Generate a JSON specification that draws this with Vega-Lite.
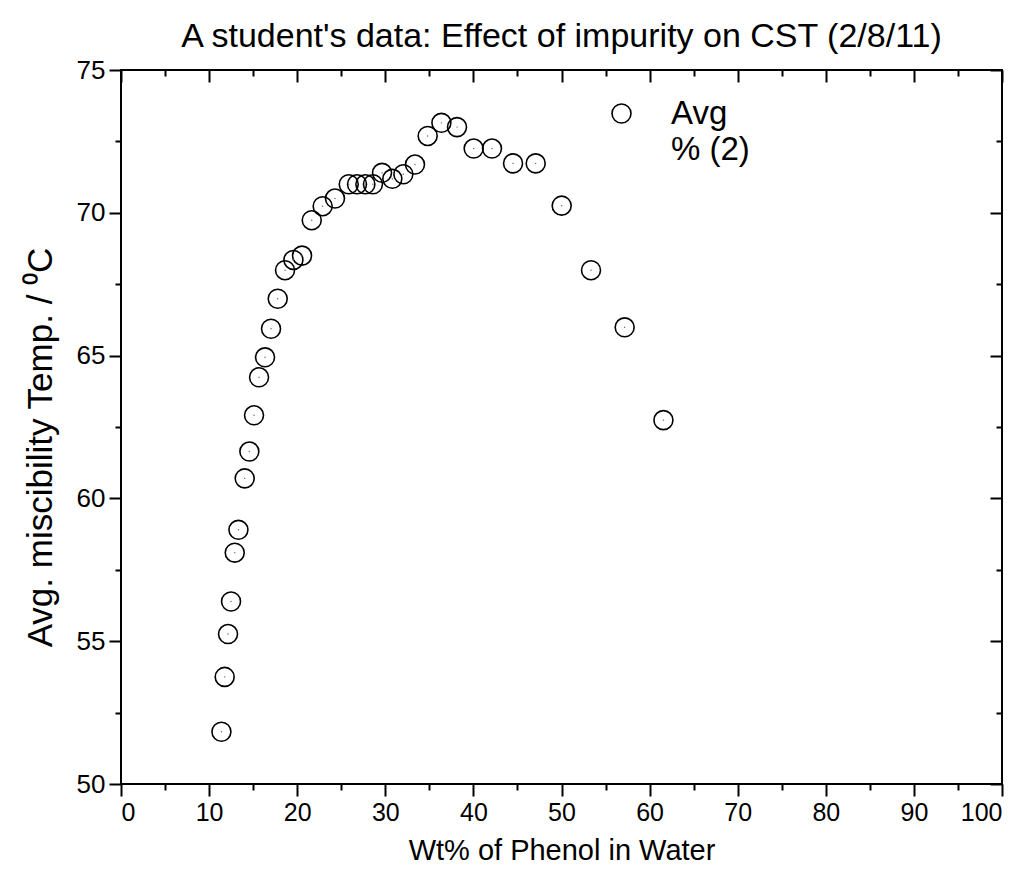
{
  "$schema": "https://vega.github.io/schema/vega-lite/v6.json",
  "autosize": "none",
  "padding": {"left": 121, "top": 70, "right": 27, "bottom": 104},
  "width": 881,
  "height": 714,
  "background": "white",
  "config": {
    "view": {"stroke": "black", "strokeWidth": 2},
    "font": "Liberation Sans",
    "axis": {"grid": false, "domain": false, "tickColor": "black", "tickWidth": 2, "labelColor": "black", "titleColor": "black", "labelFont": "Liberation Sans", "titleFont": "Liberation Sans", "titleFontWeight": "normal"}
  },
  "title": {"text": "A student's data: Effect of impurity on CST (2/8/11)", "fontSize": 34, "fontWeight": "normal", "font": "Liberation Sans", "color": "black", "offset": 3},
  "data": {"values": [
    {"wt": 11.40, "temp": 51.83, "series": "Avg"},
    {"wt": 11.77, "temp": 53.75, "series": "Avg"},
    {"wt": 12.15, "temp": 55.25, "series": "Avg"},
    {"wt": 12.49, "temp": 56.39, "series": "Avg"},
    {"wt": 12.91, "temp": 58.10, "series": "Avg"},
    {"wt": 13.33, "temp": 58.90, "series": "Avg"},
    {"wt": 14.04, "temp": 60.70, "series": "Avg"},
    {"wt": 14.57, "temp": 61.64, "series": "Avg"},
    {"wt": 15.10, "temp": 62.91, "series": "Avg"},
    {"wt": 15.67, "temp": 64.24, "series": "Avg"},
    {"wt": 16.35, "temp": 64.94, "series": "Avg"},
    {"wt": 17.03, "temp": 65.94, "series": "Avg"},
    {"wt": 17.79, "temp": 66.99, "series": "Avg"},
    {"wt": 18.62, "temp": 67.99, "series": "Avg"},
    {"wt": 19.57, "temp": 68.35, "series": "Avg"},
    {"wt": 20.55, "temp": 68.50, "series": "Avg"},
    {"wt": 21.65, "temp": 69.74, "series": "Avg"},
    {"wt": 22.89, "temp": 70.23, "series": "Avg"},
    {"wt": 24.29, "temp": 70.50, "series": "Avg"},
    {"wt": 25.85, "temp": 71.00, "series": "Avg"},
    {"wt": 26.79, "temp": 71.00, "series": "Avg"},
    {"wt": 27.74, "temp": 71.00, "series": "Avg"},
    {"wt": 28.60, "temp": 71.00, "series": "Avg"},
    {"wt": 29.63, "temp": 71.40, "series": "Avg"},
    {"wt": 30.80, "temp": 71.19, "series": "Avg"},
    {"wt": 32.05, "temp": 71.35, "series": "Avg"},
    {"wt": 33.37, "temp": 71.69, "series": "Avg"},
    {"wt": 34.81, "temp": 72.69, "series": "Avg"},
    {"wt": 36.37, "temp": 73.15, "series": "Avg"},
    {"wt": 38.14, "temp": 73.00, "series": "Avg"},
    {"wt": 40.03, "temp": 72.25, "series": "Avg"},
    {"wt": 42.11, "temp": 72.25, "series": "Avg"},
    {"wt": 44.50, "temp": 71.73, "series": "Avg"},
    {"wt": 47.07, "temp": 71.73, "series": "Avg"},
    {"wt": 50.02, "temp": 70.25, "series": "Avg"},
    {"wt": 53.35, "temp": 67.99, "series": "Avg"},
    {"wt": 57.17, "temp": 65.99, "series": "Avg"},
    {"wt": 61.57, "temp": 62.74, "series": "Avg"}
  ]},
  "resolve": {"axis": {"x": "independent", "y": "independent"}},
  "layer": [
    {
      "mark": {"type": "point", "shape": "circle", "filled": false, "size": 360, "strokeWidth": 1.6, "opacity": 1},
      "encoding": {
        "x": {"field": "wt", "type": "quantitative", "scale": {"domain": [0, 100], "nice": false},
          "axis": {"orient": "bottom", "values": [0,5,10,15,20,25,30,35,40,45,50,55,60,65,70,75,80,85,90,95,100],
            "labelExpr": "datum.value % 10 === 0 ? datum.label : ''",
            "tickSize": {"condition": {"test": "datum.value % 10 === 0", "value": 12}, "value": 6},
            "labelFontSize": 25, "labelPadding": 4, "title": "Wt% of Phenol in Water", "titleFontSize": 29, "titlePadding": 11}},
        "y": {"field": "temp", "type": "quantitative", "scale": {"domain": [50, 75], "nice": false, "zero": false},
          "axis": {"orient": "left", "values": [50,52.5,55,57.5,60,62.5,65,67.5,70,72.5,75],
            "labelExpr": "datum.value % 5 === 0 ? datum.label : ''",
            "tickSize": {"condition": {"test": "datum.value % 5 === 0", "value": 12}, "value": 6},
            "labelFontSize": 26, "labelPadding": 4, "title": "Avg. miscibility Temp. / \u2070C", "titleFontSize": 35, "titlePadding": 18, "titleY": 377}},
        "color": {"field": "series", "type": "nominal", "scale": {"domain": ["Avg", "% (2)"], "range": ["black", "white"]},
          "legend": {"orient": "none", "legendX": 484, "legendY": 27, "title": null, "padding": 0, "rowPadding": 2,
            "symbolType": "circle", "symbolSize": 360, "symbolStrokeWidth": 1.6, "symbolFillColor": "transparent",
            "labelFontSize": 33, "labelFont": "Liberation Sans", "labelColor": "black", "labelOffset": 33,
            "labelBaseline": "middle", "labelLimit": 0}}
      }
    },
    {
      "mark": {"type": "point", "shape": "circle", "filled": true, "size": 2, "color": "#666666", "opacity": 1},
      "encoding": {
        "x": {"field": "wt", "type": "quantitative", "axis": null},
        "y": {"field": "temp", "type": "quantitative", "axis": null}
      }
    },
    {
      "mark": {"type": "point", "opacity": 0},
      "encoding": {
        "x": {"field": "wt", "type": "quantitative",
          "axis": {"orient": "top", "values": [0,5,10,15,20,25,30,35,40,45,50,55,60,65,70,75,80,85,90,95,100], "labels": false, "title": null,
            "tickSize": {"condition": {"test": "datum.value % 10 === 0", "value": -12}, "value": -6}}},
        "y": {"field": "temp", "type": "quantitative",
          "axis": {"orient": "right", "values": [50,52.5,55,57.5,60,62.5,65,67.5,70,72.5,75], "labels": false, "title": null,
            "tickSize": {"condition": {"test": "datum.value % 5 === 0", "value": -12}, "value": -6}}}
      }
    }
  ]
}
